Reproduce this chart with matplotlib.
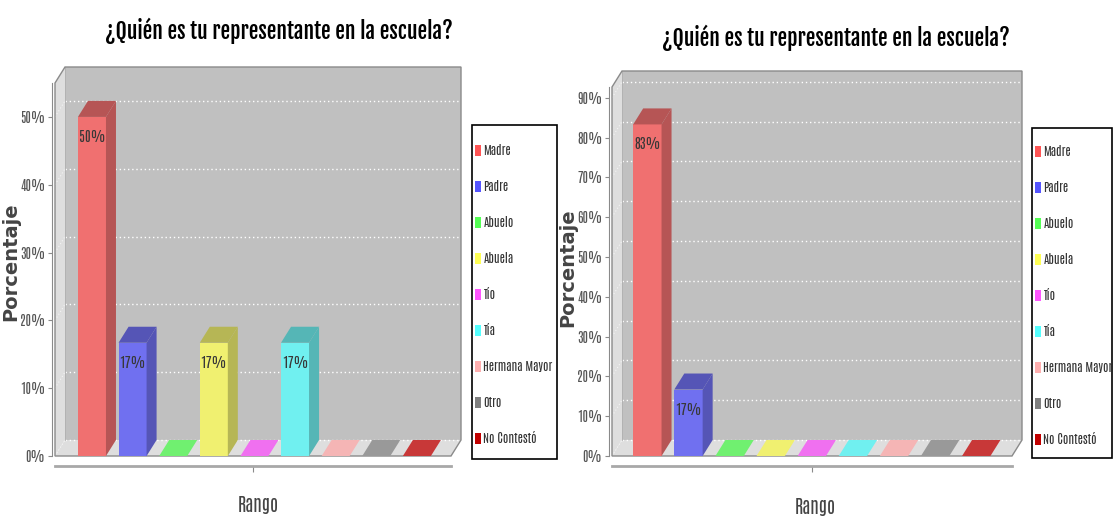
import matplotlib
matplotlib.use('Agg')
import matplotlib.pyplot as plt
from matplotlib.patches import Polygon, Rectangle, Patch
from matplotlib import font_manager
import matplotlib.colors as mcolors

# ---------------- data ----------------
categories = ['Madre', 'Padre', 'Abuelo', 'Abuela', 'Tío', 'Tía',
              'Hermana Mayor', 'Otro', 'No Contestó']
values_left = [50.0, 16.7, 0, 16.7, 0, 16.7, 0, 0, 0]
values_right = [83.3, 16.7, 0, 0, 0, 0, 0, 0, 0]
yticks_left = [0, 10, 20, 30, 40, 50]
yticks_right = [0, 10, 20, 30, 40, 50, 60, 70, 80, 90]
title_text = '¿Quién es tu representante en la escuela?'
xlabel_text = 'Rango'
ylabel_text = 'Porcentaje'

# ---------------- style ----------------
legend_colors = ['#FF5555', '#5555FF', '#55FF55', '#FFFF55', '#FF55FF',
                 '#55FFFF', '#FFAFAF', '#808080', '#C00000']
bar_colors = ['#F07070', '#7070F0', '#70F070', '#F0F070', '#F070F0',
              '#70F0F0', '#F5B5B5', '#999999', '#C83838']

_NAMES = {f.name for f in font_manager.fontManager.ttflist}


def pick(cands):
    for c in cands:
        if c in _NAMES:
            return c
    return 'Liberation Sans'


NARROW = pick(['Antonio', 'Roboto Condensed', 'Archivo Narrow', 'Liberation Sans Narrow'])
TITLE_FONT = pick(['Fjalla One', 'Roboto Condensed', 'Archivo Narrow'])
SCALE = 1.0 if NARROW == 'Antonio' else 0.85
TSCALE = 1.0 if TITLE_FONT == 'Fjalla One' else 0.95

W, H = 1114, 520
fig = plt.figure(figsize=(W / 100, H / 100), dpi=100)
fig.patch.set_facecolor('white')


def darker(c, f=0.76):
    r, g, b = mcolors.to_rgb(c)
    return (r * f, g * f, b * f)


def draw_chart(px_l, px_r, px_b, px_t, xlim, ymax, values, yticks,
               title_xy, xlabel_xy, ylabel_xy, legend_box):
    ax = fig.add_axes([px_l / W, 1 - px_b / H, (px_r - px_l) / W, (px_b - px_t) / H])
    ax.patch.set_visible(False)
    xmin, xmax = xlim
    ax.set_xlim(xmin, xmax)
    ax.set_ylim(0, ymax)
    dx = 10 * (xmax - xmin) / (px_r - px_l)
    dy = 16 * ymax / (px_b - px_t)
    wall = '#C0C0C0'
    side = '#DEDEDE'
    ax.add_patch(Rectangle((xmin + dx, dy), xmax - xmin, ymax, fc=wall, ec='none',
                           clip_on=False, zorder=0.5))
    ax.add_patch(Polygon([(xmin, 0), (xmin + dx, dy), (xmin + dx, ymax + dy), (xmin, ymax)],
                         closed=True, fc=side, ec='none', clip_on=False, zorder=0.6))
    ax.add_patch(Polygon([(xmin, 0), (xmin + dx, dy), (xmax + dx, dy), (xmax, 0)],
                         closed=True, fc=side, ec='none', clip_on=False, zorder=0.6))
    for t in yticks:
        ax.plot([xmin + dx, xmax + dx], [t + dy, t + dy], color='white', lw=1,
                ls=(0, (1, 2)), clip_on=False, zorder=1)
        ax.plot([xmin, xmin + dx], [t, t + dy], color='#F4F4F4', lw=0.8,
                ls=(0, (1, 2)), clip_on=False, zorder=1)
    ax.add_patch(Polygon([(xmin, 0), (xmin, ymax), (xmin + dx, ymax + dy),
                          (xmax + dx, ymax + dy), (xmax + dx, dy), (xmax, 0)],
                         closed=True, fill=False, ec='#8A8A8A', lw=1, clip_on=False, zorder=1.2))
    ax.plot([xmin + dx, xmin + dx], [dy, ymax + dy], color='#B0B0B0', lw=0.6,
            clip_on=False, zorder=1.1)

    bw = 0.69
    xs = list(range(len(categories)))
    nonzero = [v if v > 0 else 0 for v in values]
    ax.bar(xs, nonzero, width=bw, color=bar_colors, zorder=3, linewidth=0)
    for x, v, c in zip(xs, values, bar_colors):
        l, r = x - bw / 2, x + bw / 2
        if v > 0:
            dc = darker(c)
            ax.add_patch(Polygon([(r, 0), (r + dx, dy), (r + dx, v + dy), (r, v)],
                                 closed=True, fc=dc, ec='none', zorder=3, clip_on=False))
            ax.add_patch(Polygon([(l, v), (l + dx, v + dy), (r + dx, v + dy), (r, v)],
                                 closed=True, fc=dc, ec='none', zorder=3, clip_on=False))
            ax.annotate(f'{v:.0f}%', (x, v), xytext=(0, -20), textcoords='offset pixels',
                        ha='center', va='center', fontsize=10 * SCALE, family=NARROW,
                        color='#383838', zorder=5)
        else:
            ax.add_patch(Polygon([(l, 0), (l + dx, dy), (r + dx, dy), (r, 0)],
                                 closed=True, fc=c, ec='none', zorder=3, clip_on=False))

    for s in ['top', 'right']:
        ax.spines[s].set_visible(False)
    ax.spines['left'].set_position(('outward', 2))
    ax.spines['left'].set_color('#8A8A8A')
    ax.spines['bottom'].set_position(('outward', 7))
    ax.spines['bottom'].set_color('#A8A8A8')
    ax.spines['bottom'].set_linewidth(2)
    ax.set_yticks(yticks)
    ax.set_yticklabels([f'{t}%' for t in yticks], family=NARROW, fontsize=9.5 * SCALE,
                       color='#555555')
    ax.tick_params(axis='y', length=3, color='#8A8A8A', pad=2)
    ax.set_xticks([(xmin + xmax) / 2])
    ax.set_xticklabels([''])
    ax.tick_params(axis='x', length=4, color='#8A8A8A')

    fig.text(title_xy[0] / W, 1 - title_xy[1] / H, title_text, ha='center', va='center',
             fontsize=15.5 * TSCALE, fontweight='bold', family=TITLE_FONT, color='black')
    fig.text(xlabel_xy[0] / W, 1 - xlabel_xy[1] / H, xlabel_text, ha='center', va='center',
             fontsize=13 * SCALE, family=NARROW, color='#444444')
    fig.text(ylabel_xy[0] / W, 1 - ylabel_xy[1] / H, ylabel_text, ha='center', va='center',
             rotation=90, fontsize=14, fontweight='bold', family='DejaVu Sans',
             color='#444444')

    bx0, by0, bx1, by1 = legend_box
    fig.add_artist(Rectangle((bx0 / W, 1 - by1 / H), (bx1 - bx0) / W, (by1 - by0) / H,
                             transform=fig.transFigure, fill=False, ec='black', lw=1.2))
    handles = [Patch(fc=c, ec='none') for c in legend_colors]
    leg = fig.legend(handles, categories, loc='center left',
                     bbox_to_anchor=((bx0 + 3) / W, 1 - ((by0 + by1) / 2 + 2) / H),
                     bbox_transform=fig.transFigure, frameon=False,
                     prop={'family': NARROW, 'size': 8.7 * SCALE}, handlelength=0.5,
                     handleheight=1.05, handletextpad=0.2, labelspacing=1.95,
                     borderpad=0, borderaxespad=0)
    for t in leg.get_texts():
        t.set_color('#333333')


draw_chart(55, 451, 456, 83, (-0.91, 8.84), 55.0, values_left, yticks_left,
           (279, 31), (258, 505), (11, 262), (472, 125, 557, 459))
draw_chart(612, 1012, 456, 87, (-0.86, 8.87), 92.7, values_right, yticks_right,
           (836, 38), (815, 507), (568, 268), (1032, 128, 1112, 458))

fig.savefig('out.png', dpi=100, facecolor='white')
